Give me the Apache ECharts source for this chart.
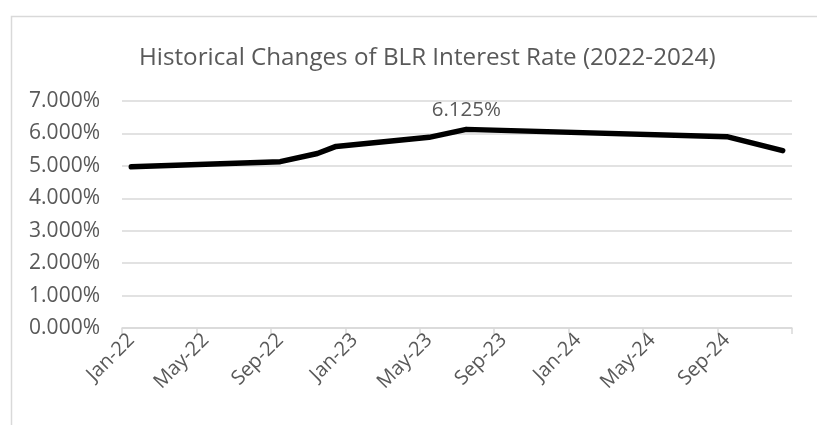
<!DOCTYPE html>
<html>
<head>
<meta charset="utf-8">
<script src="https://cdn.jsdelivr.net/npm/echarts@6/dist/echarts.min.js"></script>
<style>
  html, body { margin: 0; padding: 0; background: #fff; }
  #main { width: 817px; height: 425px; }
</style>
</head>
<body>
<div id="main"></div>
<script>
// monthly categories Jan-22 .. Dec-24
var monthNames = ['Jan','Feb','Mar','Apr','May','Jun','Jul','Aug','Sep','Oct','Nov','Dec'];
var years = ['22', '23', '24'];

// rate changes (only the months where the line bends)
var changeMonths = ['Jan-22', 'Sep-22', 'Nov-22', 'Dec-22', 'May-23', 'Jul-23', 'Sep-24', 'Dec-24'];
var changeRates  = [4.97, 5.13, 5.38, 5.60, 5.88, 6.125, 5.90, 5.47];
var labelledMonth = 'Jul-23';

var yTicks = [0, 1, 2, 3, 4, 5, 6, 7];

var months = [];
years.forEach(function (y) {
    monthNames.forEach(function (m) { months.push(m + '-' + y); });
});

var seriesData = months.map(function (m) {
    var i = changeMonths.indexOf(m);
    if (i < 0) return null;
    if (m === labelledMonth) {
        return {
            value: changeRates[i],
            label: {
                show: true,
                position: 'top',
                distance: 9,
                color: '#595959',
                fontSize: 20.5,
                fontFamily: 'Open Sans',
                formatter: function (p) { return p.value.toFixed(3) + '%'; }
            }
        };
    }
    return changeRates[i];
});

var chartDom = document.getElementById('main');
var myChart = echarts.init(chartDom);

var option = {
    animation: false,
    backgroundColor: '#fff',
    title: {
        text: 'Historical Changes of BLR Interest Rate (2022-2024)',
        left: 134,
        top: 41,
        textStyle: {
            color: '#595959',
            fontSize: 24.2,
            fontWeight: 'normal',
            fontFamily: 'Open Sans'
        }
    },
    graphic: [{
        type: 'rect',
        left: 9,
        top: 14,
        shape: { width: 900, height: 500 },
        style: { fill: 'none', stroke: '#d9d9d9', lineWidth: 1.5 },
        silent: true
    }],
    grid: { left: 122, right: 25, top: 101, bottom: 97 },
    xAxis: {
        type: 'category',
        data: months,
        boundaryGap: true,
        axisLine: { lineStyle: { color: '#d9d9d9', width: 1.5 } },
        axisTick: { show: true, interval: 3, length: 6, lineStyle: { color: '#d9d9d9', width: 1.5 } },
        axisLabel: {
            interval: 3,
            rotate: 45,
            margin: 9,
            color: '#595959',
            fontSize: 20,
            fontFamily: 'Open Sans'
        },
        splitLine: { show: false }
    },
    yAxis: {
        type: 'value',
        min: yTicks[0],
        max: yTicks[yTicks.length - 1],
        interval: 1,
        axisLine: { show: false },
        axisTick: { show: false },
        axisLabel: {
            margin: 22,
            color: '#595959',
            fontSize: 21,
            fontFamily: 'Open Sans',
            formatter: function (v) { return v.toFixed(3) + '%'; }
        },
        splitLine: { lineStyle: { color: '#d9d9d9', width: 1.5 } }
    },
    series: [{
        name: 'BLR',
        type: 'line',
        data: seriesData,
        connectNulls: true,
        showSymbol: true,
        symbol: 'circle',
        symbolSize: 0.1,
        lineStyle: { color: '#000', width: 5.5, cap: 'round', join: 'round' },
        itemStyle: { color: '#000' }
    }]
};

option && myChart.setOption(option);
</script>
</body>
</html>
